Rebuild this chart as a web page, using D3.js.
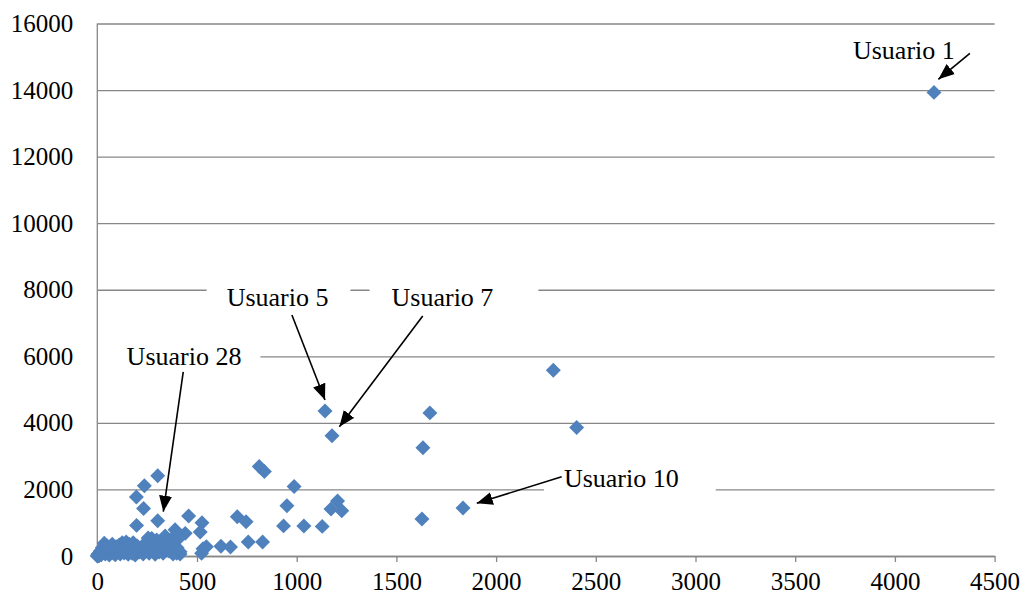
<!DOCTYPE html>
<html>
<head>
<meta charset="utf-8">
<script src="https://cdn.jsdelivr.net/npm/d3@7"></script>
<style>
  body { margin: 0; background: #fff; }
  svg text { font-family: "Liberation Serif", "Times New Roman", serif; fill: #000; }
</style>
</head>
<body>
<div id="graph"></div>
<script>

// tick values
const xTicks = [0, 500, 1000, 1500, 2000, 2500, 3000, 3500, 4000, 4500];
const yTicks = [0, 2000, 4000, 6000, 8000, 10000, 12000, 14000, 16000];

// users: x values / y values
const xVals = [
  4196, 2287, 2404, 1668, 1633, 1628, 1834, 1142, 1177, 987, 951, 934, 1036, 1128, 1205, 1172, 1226,
  812, 838, 303, 236, 196, 232, 303, 197, 458, 525, 516, 702, 746, 757, 829, 620, 668, 530, 547,
  390, 383, 441, 415, 340, 323, 398, 415, 523, 273, 264, 365, 298, 255, 415,
  0, 2, 3, 5, 8, 10, 12, 15, 20, 25, 30, 35, 40, 45, 50, 55, 60, 65, 70, 75, 80, 85, 90, 95,
  100, 105, 110, 115, 120, 125, 130, 135, 140, 145, 150, 155, 160, 165, 170, 175, 180, 185, 190,
  200, 210, 220, 230, 240, 250, 260, 270, 280, 290, 300, 310, 320, 330, 340, 350, 360, 370, 380, 400
];
const yVals = [
  13930, 5580, 3860, 4300, 3250, 1110, 1440, 4360, 3610, 2090, 1510, 905, 900, 890, 1650, 1410, 1360,
  2690, 2540, 2410, 2110, 1770, 1430, 1060, 920, 1200, 1000, 720, 1180, 1030, 420, 420, 290, 270, 220, 280,
  790, 580, 680, 570, 600, 330, 80, 60, 80, 530, 230, 390, 480, 540, 130,
  0, 10, 50, 20, 5, 80, 30, 150, 40, 250, 120, 380, 60, 200, 300, 100, 30, 180, 250, 350, 90, 150, 40, 280,
  200, 120, 330, 60, 250, 400, 150, 90, 300, 420, 200, 50, 350, 130, 260, 80, 400, 180, 30,
  300, 120, 230, 60, 380, 150, 80, 300, 180, 50, 260, 120, 350, 80, 200, 420, 150, 300, 60, 250
];

// callouts, in data units: label centre / baseline, arrow start, arrow tip
const labels = ["Usuario 1", "Usuario 5", "Usuario 7", "Usuario 28", "Usuario 10"];
const labelX = [4045, 904, 1731, 435, 2628];
const labelY = [14925, 7512, 7512, 5739, 2082];
const arrowFrom = [[4376, 15105], [976, 7242], [1632, 7212], [431, 5529], [2329, 2383]];
const arrowTo = [[4218, 14324], [1142, 4688], [1214, 3885], [331, 1331], [1903, 1583]];

const width = 1024, height = 597;
const plotLeft = 97.3, plotRight = 994.6, plotTop = 23.5, plotBottom = 556;
const gridColor = "#878787";
const serif = "'Liberation Serif', 'Times New Roman', serif";

let svg = d3.select("#graph")
    .append("svg")
    .attr("width", width)
    .attr("height", height);

svg.append("rect").attr("width", width).attr("height", height).attr("fill", "#fff");

let x = d3.scaleLinear().domain([0, 4500]).range([plotLeft, plotRight]),
    y = d3.scaleLinear().domain([0, 16000]).range([plotBottom, plotTop]);

// horizontal gridlines + y labels
let yAxis = svg.append("g")
    .attr("transform", "translate(" + plotLeft + ",0)")
    .call(d3.axisLeft(y).tickValues(yTicks).tickFormat(d3.format("d"))
      .tickSize(-(plotRight - plotLeft)).tickPadding(24));
yAxis.attr("font-family", null).attr("font-size", null);
yAxis.select(".domain").remove();
yAxis.selectAll("line").attr("stroke", gridColor).attr("stroke-width", 1.3);
yAxis.selectAll("text").style("font-family", serif).style("font-size", "25px").attr("fill", "#000");

// white boxes behind callout labels (they interrupt the gridlines)
const boxPad = [[20, 60, 10, 16], [20, 22, 10, 8], [22, 45, 10, 8], [40, 19, 10, 10], [20, 37, 10, 10]];
let labelG = svg.append("g");
let labelText = labelG.selectAll("text")
    .data(labels)
    .enter().append("text")
    .attr("x", (d, i) => x(labelX[i]))
    .attr("y", (d, i) => y(labelY[i]))
    .attr("text-anchor", "middle")
    .style("font-family", serif)
    .style("font-size", "26px")
    .text(d => d);

labelText.each(function(d, i) {
  let b = this.getBBox(), p = boxPad[i];
  labelG.insert("rect", "text")
    .attr("x", b.x - p[0])
    .attr("y", b.y - p[2])
    .attr("width", b.width + p[0] + p[1])
    .attr("height", b.height + p[2] + p[3])
    .attr("fill", "#fff");
});

// axis lines
svg.append("line")
    .attr("x1", plotLeft).attr("x2", plotLeft)
    .attr("y1", y(16000)).attr("y2", plotBottom)
    .attr("stroke", gridColor).attr("stroke-width", 1.3);

let xAxis = svg.append("g")
    .attr("transform", "translate(0," + plotBottom + ")")
    .call(d3.axisBottom(x).tickValues(xTicks).tickFormat(d3.format("d"))
      .tickSize(6).tickSizeOuter(0).tickPadding(10));
xAxis.attr("font-family", null).attr("font-size", null);
xAxis.select(".domain").attr("stroke", gridColor).attr("stroke-width", 1.3);
xAxis.selectAll("line").attr("stroke", gridColor).attr("stroke-width", 1.3);
xAxis.selectAll("text").style("font-family", serif).style("font-size", "25px").attr("fill", "#000");

// points
const diamond = d3.symbol().type(d3.symbolSquare).size(112);
svg.append("g")
    .selectAll("path")
    .data(xVals.map((v, i) => [v, yVals[i]]))
    .enter().append("path")
    .attr("d", diamond)
    .attr("transform", d => "translate(" + x(d[0]) + "," + y(d[1]) + ") rotate(45)")
    .attr("fill", "#4F81BD");

// arrows
svg.append("defs").append("marker")
    .attr("id", "head")
    .attr("markerUnits", "userSpaceOnUse")
    .attr("viewBox", "0 -7 16 14")
    .attr("refX", 16).attr("refY", 0)
    .attr("markerWidth", 16).attr("markerHeight", 14)
    .attr("orient", "auto")
    .append("path")
    .attr("d", "M0,-6.5L16,0L0,6.5Z")
    .attr("fill", "#000");

svg.append("g")
    .selectAll("line")
    .data(labels)
    .enter().append("line")
    .attr("x1", (d, i) => x(arrowFrom[i][0]))
    .attr("y1", (d, i) => y(arrowFrom[i][1]))
    .attr("x2", (d, i) => x(arrowTo[i][0]))
    .attr("y2", (d, i) => y(arrowTo[i][1]))
    .attr("stroke", "#000")
    .attr("stroke-width", 1.6)
    .attr("marker-end", "url(#head)");

</script>
</body>
</html>
